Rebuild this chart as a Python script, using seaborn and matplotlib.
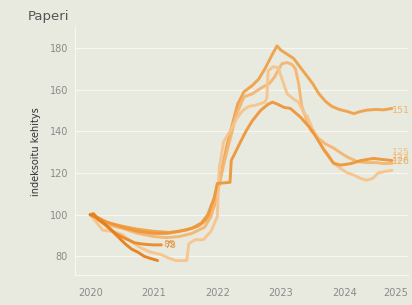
import pandas as pd
import matplotlib.pyplot as plt
import seaborn as sns

# Indexed price development (2020 = 100)
s1_years = [2020.0, 2020.1, 2020.3, 2020.5, 2020.75, 2021.0, 2021.25, 2021.5, 2021.7, 2021.85,
            2021.95, 2022.05, 2022.15, 2022.25, 2022.32, 2022.42, 2022.55, 2022.65, 2022.75,
            2022.85, 2022.94, 2023.0, 2023.1, 2023.2, 2023.3, 2023.4, 2023.5, 2023.6, 2023.7,
            2023.8, 2023.92, 2024.05, 2024.15, 2024.25, 2024.36, 2024.5, 2024.62, 2024.75]
s1_values = [100, 98.5, 96, 94.5, 93, 92, 91.5, 92.5, 94.5, 98,
             104, 118, 133, 145, 153, 159, 162, 165, 170,
             176, 181, 179, 177, 175, 171, 167, 163, 158, 154.5,
             152, 150.5, 149.5, 148.5, 149.5, 150.2, 150.5, 150.3, 151]

s2_years = [2020.0, 2020.15, 2020.3, 2020.5, 2020.75, 2021.0, 2021.2, 2021.4, 2021.6, 2021.8,
            2021.9, 2022.0, 2022.1, 2022.2, 2022.3, 2022.42, 2022.55, 2022.7, 2022.82, 2022.9,
            2022.97, 2023.02, 2023.1, 2023.18, 2023.23, 2023.28, 2023.33, 2023.4, 2023.47,
            2023.58, 2023.7, 2023.83, 2023.95, 2024.05, 2024.2, 2024.35, 2024.5, 2024.62, 2024.75]
s2_values = [100, 97, 95, 93.5, 91, 89.5, 89, 89.5, 91, 94,
             99, 110, 124, 136, 148, 156.5, 158, 161, 163, 166,
             170, 172.5, 173, 172, 170, 163, 152, 146, 140.6,
             137, 134, 132, 129.5, 127.6, 125.5, 125, 125, 124.5, 124.7]

s3_years = [2020.0, 2020.08, 2020.2, 2020.35, 2020.5, 2020.65, 2020.8, 2020.95, 2021.1, 2021.25,
            2021.35, 2021.52, 2021.55, 2021.65, 2021.78, 2021.9, 2022.0, 2022.03, 2022.1, 2022.2,
            2022.3, 2022.4, 2022.5, 2022.6, 2022.75, 2022.78, 2022.8, 2022.88, 2022.96, 2023.02,
            2023.1, 2023.2, 2023.28, 2023.36, 2023.42, 2023.5, 2023.58, 2023.66, 2023.73, 2023.83,
            2023.95, 2024.05, 2024.15, 2024.25, 2024.35, 2024.45, 2024.53, 2024.65, 2024.75]
s3_values = [100, 97, 92.5, 92, 90.5, 87, 84, 82, 81, 79,
             78, 78, 86, 88, 88, 92, 99, 122, 135, 140,
             146, 150, 152, 152.5, 154, 156, 169, 171, 170.5, 165,
             158, 155.5, 154, 149, 147, 141, 137, 132, 129.5, 124.7,
             122, 120, 119, 117.5, 116.5, 117.5, 120, 120.8, 121.3]

s4_years = [2020.0, 2020.1, 2020.25, 2020.5, 2020.75, 2021.0, 2021.2, 2021.4, 2021.6, 2021.75,
            2021.85, 2021.95, 2022.0, 2022.2, 2022.22, 2022.27, 2022.35, 2022.45, 2022.55, 2022.68,
            2022.8, 2022.87, 2022.95, 2023.05, 2023.15, 2023.31, 2023.45, 2023.52, 2023.6, 2023.68,
            2023.83, 2023.94, 2024.1, 2024.26, 2024.46, 2024.6, 2024.75]
s4_values = [100, 99, 96.5, 94, 92, 91, 91, 92, 93.5, 96,
             100, 108, 115, 115.5, 126, 129, 134, 140, 145, 150,
             153, 154, 153, 151.5, 151, 146.8, 142, 139, 135, 131,
             124.7, 123.8, 124.5, 126, 127, 126.5, 126]

s5_years = [2020.0, 2020.1, 2020.24, 2020.4, 2020.55, 2020.7, 2020.85, 2021.0, 2021.12]
s5_values = [100, 98.5, 95, 91, 88.6, 86.5, 85.8, 85.5, 85.5]

s6_years = [2020.0, 2020.05, 2020.12, 2020.25, 2020.35, 2020.45, 2020.55, 2020.65, 2020.75,
            2020.85, 2020.95, 2021.06]
s6_values = [100, 100.5, 98, 95, 92, 89, 86, 83.5, 82, 80, 79, 78]

series_colors = ['#f0a14a', '#f5b670', '#f7c48c', '#ee9738', '#ea8a27', '#e5801c']
end_labels = ['151', '125', '122', '126', '85', '78']

year_ticks = [2020, 2021, 2022, 2023, 2024, 2025]
value_ticks = [80, 100, 120, 140, 160, 180]

BG = '#e8e9df'


def build_frame():
    parts = []
    all_years = [s1_years, s2_years, s3_years, s4_years, s5_years, s6_years]
    all_values = [s1_values, s2_values, s3_values, s4_values, s5_values, s6_values]
    for i, (yrs, vals) in enumerate(zip(all_years, all_values)):
        parts.append(pd.DataFrame({'year': yrs, 'value': vals, 'series': i}))
    return pd.concat(parts, ignore_index=True)


def main():
    sns.set_style('white', {'axes.facecolor': BG, 'figure.facecolor': BG})
    plt.rcParams['font.family'] = ['DejaVu Sans']

    df = build_frame()
    fig = plt.figure(figsize=(4.12, 3.05), dpi=100)
    ax = fig.add_axes([0.182, 0.098, 0.808, 0.813])

    for i in df['series'].unique():
        sub = df[df['series'] == i]
        sns.lineplot(data=sub, x='year', y='value', ax=ax, color=series_colors[i],
                     lw=2.1, alpha=0.95, estimator=None, sort=False)

    # end-of-line value labels (nudged apart like in the original)
    label_pos = {0: (2024.75, 150.2), 1: (2024.75, 130), 2: (2024.75, 127.8),
                 3: (2024.75, 125.6), 4: (2021.15, 85.6), 5: (2021.17, 85.2)}
    for i, (lx, ly) in label_pos.items():
        ax.text(lx, ly, end_labels[i], color=series_colors[i], alpha=0.75,
                fontsize=6.8, va='center', ha='left')
    ax.text(2024.75, 127.2, '124', color=series_colors[1], alpha=0.6,
            fontsize=6.8, va='center', ha='left')

    ax.set_xlim(2019.76, 2025.0)
    ax.set_ylim(71, 190)
    ax.set_xticks(year_ticks)
    ax.set_xticklabels([str(y) for y in year_ticks])
    ax.get_xticklabels()[-1].set_horizontalalignment('right')
    ax.set_yticks(value_ticks)
    ax.tick_params(axis='both', colors='#f7f7f2', labelcolor='#8a8a8a', labelsize=7)
    ax.tick_params(axis='x', length=3, width=0.8, pad=6)
    ax.tick_params(axis='y', length=0, pad=5)
    ax.grid(axis='y', color='#f7f7f2', lw=0.9)
    ax.set_axisbelow(True)
    for side in ['top', 'right']:
        ax.spines[side].set_visible(False)
    for side in ['left', 'bottom']:
        ax.spines[side].set_color('#f7f7f2')
        ax.spines[side].set_linewidth(0.9)

    ax.set_xlabel('')
    ax.set_ylabel('indeksoitu kehitys', fontsize=7, color='#333333', labelpad=6)
    fig.text(0.068, 0.945, 'Paperi', fontsize=9.5, color='#555555', va='center')

    fig.savefig('out.png', dpi=100, facecolor=BG)


if __name__ == "__main__":
    main()
